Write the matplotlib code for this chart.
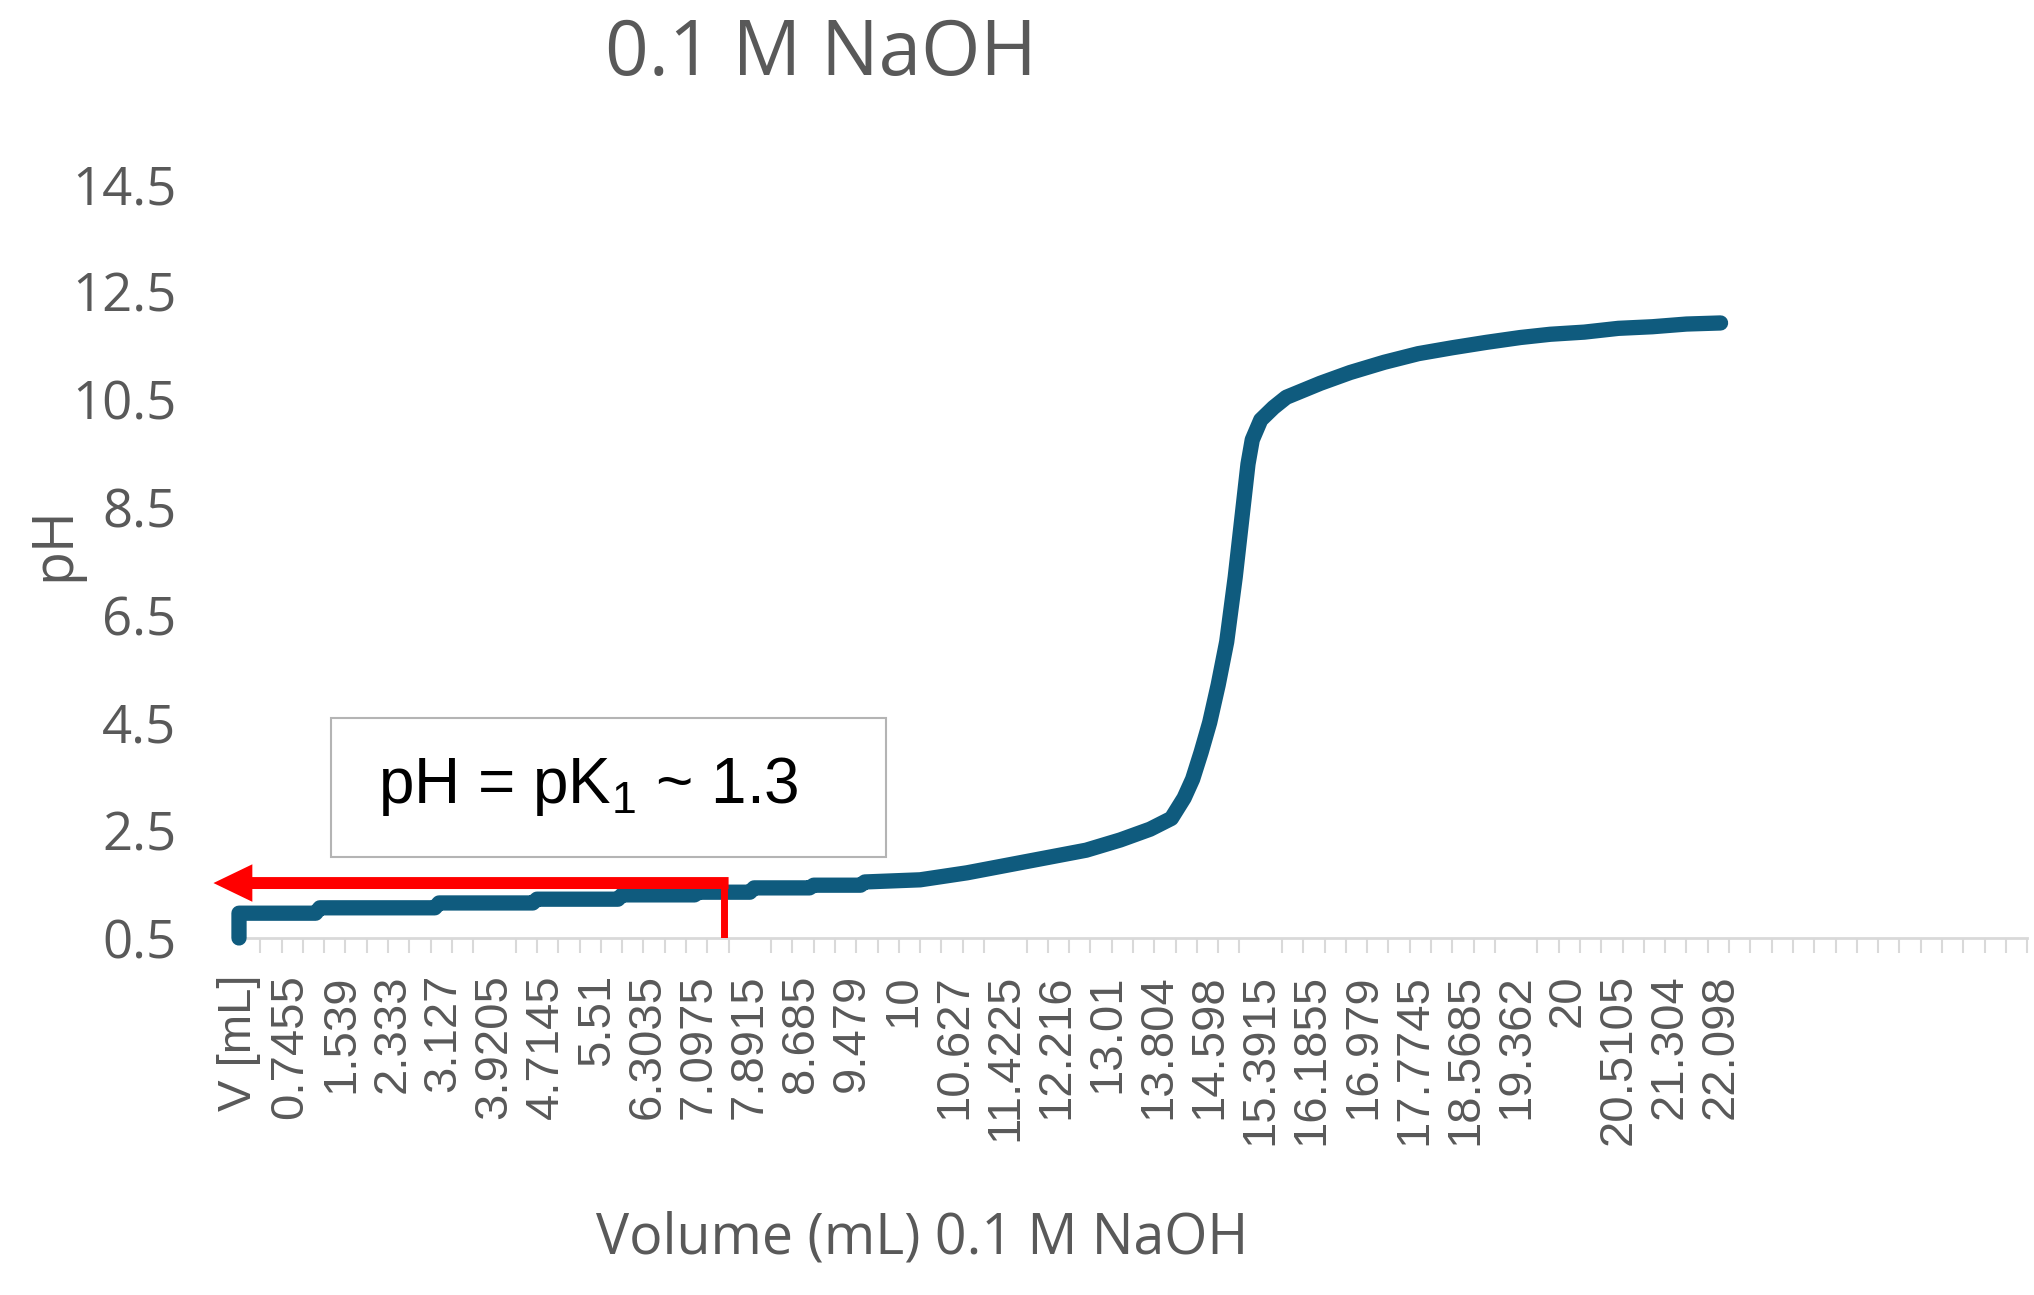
import numpy as np
import matplotlib.pyplot as plt
from matplotlib.patches import Rectangle
from matplotlib.ticker import FixedLocator, MultipleLocator

# titration data: reading number (category on the x axis) and measured pH
reading = [0, 0, 18, 19, 46, 47, 69, 70, 89, 90,
           107, 108, 120, 121, 134, 135, 146, 147, 160, 171,
           187, 199, 207, 214, 219, 222, 224, 226, 228, 230,
           232, 233, 234, 235, 236, 237, 238, 240, 243, 246,
           254, 261, 269, 277, 285, 293, 301, 308, 316, 324,
           332, 340, 348]
ph = [0.5, 0.96, 0.96, 1.06, 1.06, 1.15, 1.15, 1.22, 1.22, 1.30,
      1.30, 1.35, 1.35, 1.43, 1.43, 1.48, 1.48, 1.54, 1.58, 1.71,
      1.95, 2.13, 2.32, 2.52, 2.72, 3.10, 3.45, 3.95, 4.50, 5.20,
      6.00, 6.60, 7.20, 7.90, 8.60, 9.30, 9.75, 10.12, 10.35, 10.54,
      10.80, 11.00, 11.19, 11.35, 11.46, 11.56, 11.65, 11.71, 11.75, 11.82,
      11.85, 11.90, 11.92]

# category labels (one every 12 readings)
xlabels = ["V [mL]", "0.7455", "1.539", "2.333", "3.127", "3.9205", "4.7145",
           "5.51", "6.3035", "7.0975", "7.8915", "8.685", "9.479", "10",
           "10.627", "11.4225", "12.216", "13.01", "13.804", "14.598",
           "15.3915", "16.1855", "16.979", "17.7745", "18.5685", "19.362",
           "20", "20.5105", "21.304", "22.098"]
label_every = 12
tick_every = 5
n_cat = 420

yticks = [0.5, 2.5, 4.5, 6.5, 8.5, 10.5, 12.5, 14.5]

# half-equivalence marker
half_eq_cat = 114
half_eq_ph = 1.52
arrow_end_cat = -6

grey = '#595959'
blue = '#0f5b7e'

fig = plt.figure(figsize=(20.34, 12.95), dpi=100)
ax = fig.add_axes([0.1175, 0.2757, 0.8791, 0.5822])

ax.plot(reading, ph, color=blue, lw=11, solid_capstyle='round',
        solid_joinstyle='round', clip_on=False, zorder=3)

ax.set_xlim(0, n_cat)
ax.set_ylim(0.5, 14.5)

ax.xaxis.set_major_locator(FixedLocator(np.arange(len(xlabels)) * label_every))
ax.set_xticklabels(xlabels, rotation=90, fontsize=34, color=grey,
                   family='Liberation Sans')
ax.xaxis.set_minor_locator(MultipleLocator(tick_every))
ax.tick_params(axis='x', which='major', length=0, pad=26)
ax.tick_params(axis='x', which='minor', length=11, width=1.5, color='#d9d9d9')

ax.set_yticks(yticks)
ax.set_yticklabels([str(v) for v in yticks], fontsize=38, color=grey,
                   family='Open Sans')
ax.tick_params(axis='y', length=0, pad=45)

for s in ['top', 'right', 'left']:
    ax.spines[s].set_visible(False)
ax.spines['bottom'].set_color('#d9d9d9')
ax.spines['bottom'].set_linewidth(2)

# red marker for pK1
ax.plot([half_eq_cat, half_eq_cat], [0.5, half_eq_ph], color='red', lw=5,
        solid_capstyle='butt', zorder=4)
ax.annotate('', xy=(arrow_end_cat, half_eq_ph), xytext=(half_eq_cat + 1, half_eq_ph),
            arrowprops=dict(arrowstyle='simple,head_length=2.8,head_width=2.7,tail_width=0.86',
                            color='red', lw=0, shrinkA=0, shrinkB=0,
                            mutation_scale=10),
            annotation_clip=False, zorder=4)

# text box
ax.add_patch(Rectangle((21.6, 2.0), 130.4, 2.58, fill=False, edgecolor='#b4b4b4',
                       lw=1.5, zorder=2))
plt.rcParams['mathtext.default'] = 'regular'
ax.text(82, 3.32, r'pH = pK$_1$ ~ 1.3', ha='center', va='center', fontsize=46,
        color='black', family='Liberation Sans', zorder=5)

fig.text(0.4037, 0.9575, '0.1 M NaOH', ha='center', va='center', fontsize=55,
         color=grey, family='Open Sans')
fig.text(0.4533, 0.0432, 'Volume (mL) 0.1 M NaOH', ha='center', va='center',
         fontsize=40, color=grey, family='Open Sans')
fig.text(0.027, 0.58, 'pH', ha='center', va='center', rotation=90, fontsize=40,
         color=grey, family='Open Sans')

fig.savefig('out.png', dpi=100, facecolor='white')
